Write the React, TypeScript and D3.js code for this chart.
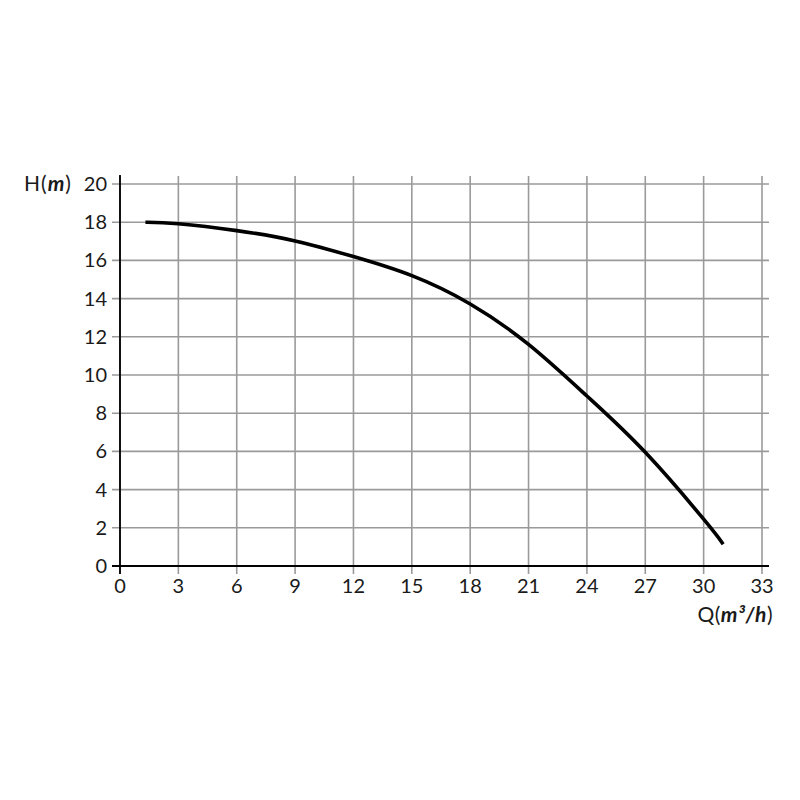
import * as d3 from "d3";

// pump curve
const flowQ = [1.4, 3, 6, 9, 12, 15, 18, 21, 24, 27, 30, 30.95];
const headH = [18, 17.92, 17.56, 17.02, 16.2, 15.2, 13.72, 11.6, 8.9, 5.95, 2.45, 1.22];
const xTicks = [0, 3, 6, 9, 12, 15, 18, 21, 24, 27, 30, 33];
const yTicks = [0, 2, 4, 6, 8, 10, 12, 14, 16, 18, 20];

const width = 800;
const height = 800;
const marginLeft = 120;
const marginRight = 38;
const marginTop = 184;
const marginBottom = 234;

const font = "'Lato', 'DejaVu Sans', sans-serif";

export default function App() {
  const x = d3
    .scaleLinear()
    .domain([0, 33])
    .range([marginLeft, width - marginRight]);

  const y = d3
    .scaleLinear()
    .domain([0, 20])
    .range([height - marginBottom, marginTop]);

  const line = d3
    .line<number>((_, i) => x(flowQ[i]), (d) => y(d))
    .curve(d3.curveNatural);

  const gridRight = x(33) + 7;
  const gridTop = y(20) - 8;
  const y0 = y(0);

  return (
    <svg
      width={width}
      height={height}
      style={{ position: "absolute", left: 0, top: 0, background: "white" }}
      fontFamily={font}
    >
      {/* grid */}
      <g stroke="#9a9a9a" strokeWidth={1.6}>
        {yTicks.map((t) => (
          <line key={"h" + t} x1={x(0) - 8} x2={gridRight} y1={y(t)} y2={y(t)} />
        ))}
        {xTicks.map((t) => (
          <line key={"v" + t} x1={x(t)} x2={x(t)} y1={gridTop} y2={y0 + 8} />
        ))}
      </g>

      {/* axes */}
      <g stroke="black" strokeWidth={1.8}>
        <line x1={x(0)} x2={x(0)} y1={gridTop - 1} y2={y0 + 8} />
        <line x1={x(0) - 8} x2={gridRight} y1={y0} y2={y0} />
      </g>

      {/* tick labels */}
      <g fontSize={20} fill="#1a1a1a" textAnchor="end">
        {yTicks.map((t) => (
          <text key={"yl" + t} x={x(0) - 13} y={y(t) + 7}>
            {t}
          </text>
        ))}
      </g>
      <g fontSize={20} fill="#1a1a1a" textAnchor="middle">
        {xTicks.map((t) => (
          <text key={"xl" + t} x={x(t)} y={y0 + 27}>
            {t}
          </text>
        ))}
      </g>

      {/* axis titles */}
      <text x={24} y={y(20) + 7} fontSize={21} fill="#1a1a1a" letterSpacing={1}>
        H(
        <tspan fontWeight="bold" fontStyle="italic">
          m
        </tspan>
        )
      </text>
      <text x={gridRight + 4} y={y0 + 56} fontSize={21} fill="#1a1a1a" textAnchor="end" letterSpacing={0.5}>
        Q(
        <tspan fontWeight="bold" fontStyle="italic">
          m³/h
        </tspan>
        )
      </text>

      {/* curve */}
      <path
        d={line(headH) || undefined}
        fill="none"
        stroke="black"
        strokeWidth={3.6}
        strokeLinecap="square"
      />
    </svg>
  );
}
